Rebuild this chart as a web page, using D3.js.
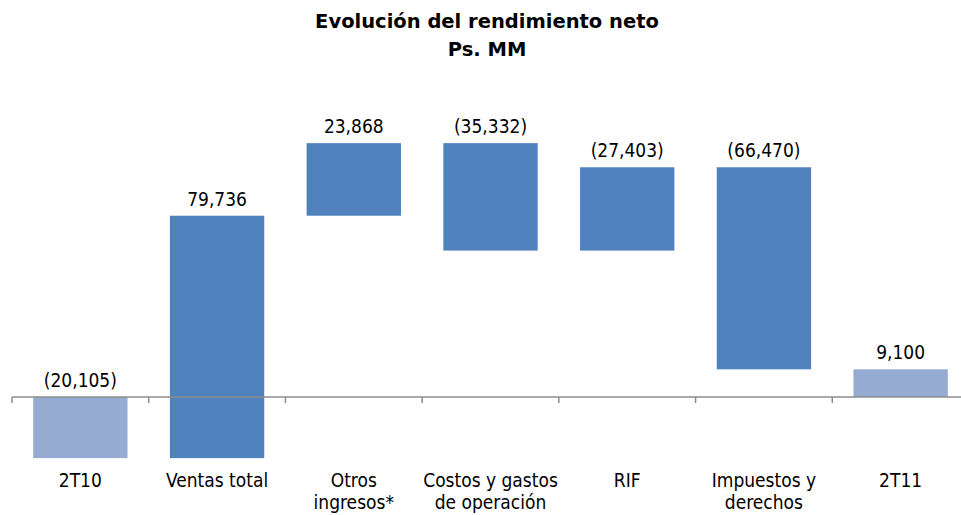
<!DOCTYPE html>
<html>
<head>
<meta charset="utf-8">
<script src="https://cdn.jsdelivr.net/npm/d3@7"></script>
<style>
  body { margin: 0; background: #fff; }
  text { font-family: "DejaVu Sans Condensed", "DejaVu Sans", sans-serif; fill: #000; }
</style>
</head>
<body>
<div class="myBox"></div>
<script>
var width = 961;
var height = 515;

// chart data
var categories = [["2T10"], ["Ventas total"], ["Otros", "ingresos*"], ["Costos y gastos", "de operación"], ["RIF"], ["Impuestos y", "derechos"], ["2T11"]];
var deltas = [-20105, 79736, 23868, -35332, 27403, -66470, 9100];
var valueLabels = ["(20,105)", "79,736", "23,868", "(35,332)", "(27,403)", "(66,470)", "9,100"];
var isTotal = [true, false, false, false, false, false, true];

// running base for each bar
var bars = [];
var run = 0;
deltas.forEach(function(d, i) {
  var start = isTotal[i] ? 0 : run;
  var end = isTotal[i] ? d : run + d;
  bars.push({i: i, start: start, end: end});
  run = end;
});

var svg = d3.select(".myBox")
  .append("svg")
  .attr("width", width)
  .attr("height", height);

var x = d3.scaleBand()
  .domain(d3.range(categories.length))
  .range([12, 969])
  .paddingInner(0.31)
  .paddingOuter(0.155);

var y = d3.scaleLinear()
  .domain([-25000, 100000])
  .range([473, 93]);

// title
svg.append("text")
  .attr("x", 487).attr("y", 28)
  .attr("text-anchor", "middle")
  .style("font-family", "'DejaVu Sans', sans-serif")
  .style("font-size", "19.5px").style("font-weight", "bold")
  .text("Evolución del rendimiento neto");
svg.append("text")
  .attr("x", 487).attr("y", 56)
  .attr("text-anchor", "middle")
  .style("font-family", "'DejaVu Sans', sans-serif")
  .style("font-size", "19.5px").style("font-weight", "bold")
  .text("Ps. MM");

// bars
svg.selectAll("rect.bar")
  .data(bars)
  .enter().append("rect")
    .attr("class", "bar")
    .attr("x", function(d) { return x(d.i); })
    .attr("width", x.bandwidth())
    .attr("y", function(d) { return y(Math.max(d.start, d.end)); })
    .attr("height", function(d) { return Math.abs(y(d.start) - y(d.end)); })
    .style("fill", function(d) { return isTotal[d.i] ? "#95abd2" : "#4f81bd"; });

// axis line at zero with ticks between categories
var step = x.step();
var axis = svg.append("g");
axis.append("line")
  .attr("x1", 12).attr("x2", 969)
  .attr("y1", y(0)).attr("y2", y(0))
  .style("stroke", "#8c8c8c").style("stroke-width", 1.5);
axis.selectAll("line.tick")
  .data(d3.range(categories.length))
  .enter().append("line")
    .attr("class", "tick")
    .attr("x1", function(d) { return 12 + d * step; })
    .attr("x2", function(d) { return 12 + d * step; })
    .attr("y1", y(0)).attr("y2", y(0) + 6)
    .style("stroke", "#8c8c8c").style("stroke-width", 1.5);

// value labels above each bar
svg.selectAll("text.val")
  .data(bars)
  .enter().append("text")
    .attr("class", "val")
    .attr("x", function(d) { return x(d.i) + x.bandwidth() / 2; })
    .attr("y", function(d) { return y(Math.max(d.start, d.end, 0)) - 10; })
    .attr("text-anchor", "middle")
    .style("font-size", "19px")
    .text(function(d) { return valueLabels[d.i]; });

// category labels
var cat = svg.selectAll("text.cat")
  .data(categories)
  .enter().append("text")
    .attr("class", "cat")
    .attr("x", function(d, i) { return x(i) + x.bandwidth() / 2; })
    .attr("y", 487)
    .attr("text-anchor", "middle")
    .style("font-size", "19px");
cat.selectAll("tspan")
  .data(function(d) { return d; })
  .enter().append("tspan")
    .attr("x", function() { return d3.select(this.parentNode).attr("x"); })
    .attr("dy", function(d, j) { return j === 0 ? 0 : 22; })
    .text(function(d) { return d; });
</script>
</body>
</html>
